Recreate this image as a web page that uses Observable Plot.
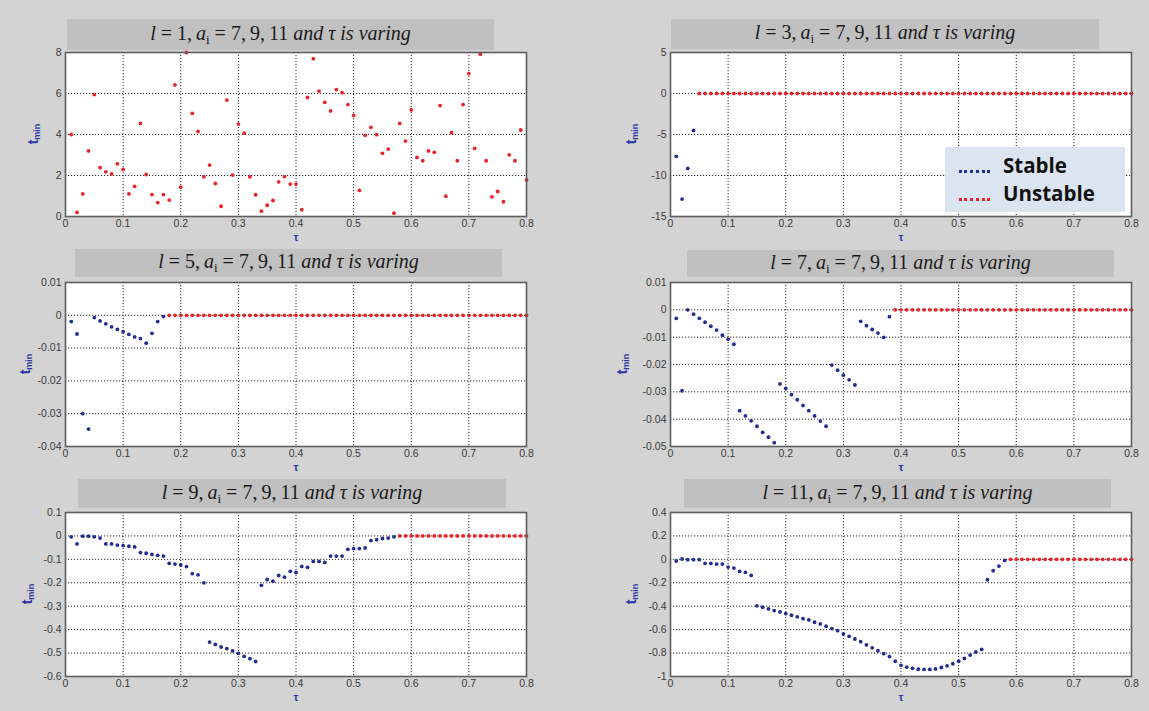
<!DOCTYPE html>
<html>
<head>
<meta charset="utf-8">
<script src="https://cdn.jsdelivr.net/npm/d3@7"></script>
<script src="https://cdn.jsdelivr.net/npm/@observablehq/plot@0.6"></script>
<style>
html, body { margin: 0; padding: 0; background: #d3d3d3; }
#root { position: relative; width: 1149px; height: 711px; overflow: hidden; background: #d3d3d3; }
.tbar { position: absolute; background: #c0c0c0; display: flex; align-items: center; justify-content: center;
        font-family: "Liberation Serif", "DejaVu Serif", serif; font-size: 20px; color: #1a1a1a; white-space: nowrap; }
.tbar i { font-style: italic; }
.tbar sub { font-size: 13px; vertical-align: -4px; }
.plotwrap { position: absolute; }
.ylab { position: absolute; transform: translate(-50%, -50%) rotate(-90deg); font-family: "Liberation Sans", Arial, sans-serif;
        font-weight: bold; font-size: 14px; color: #2a36a6; white-space: nowrap; }
.ylab sub { font-size: 9px; vertical-align: -2px; }
.legend { position: absolute; left: 945px; top: 147px; width: 180px; height: 65px; background: #dbe5f1; }
.legend .mk { position: absolute; left: 14px; width: 31px; height: 0; border-top: 3px dotted; }
.legend .tx { position: absolute; left: 58px; font-family: "Open Sans", "Liberation Sans", sans-serif; font-weight: bold;
              font-size: 20.5px; line-height: 1; color: #111; }
</style>
</head>
<body>
<div id="root"></div>
<script>
// ---------- data ----------
const tau = [0.01,0.02,0.03,0.04,0.05,0.06,0.07,0.08,0.09,0.10,
             0.11,0.12,0.13,0.14,0.15,0.16,0.17,0.18,0.19,0.20,
             0.21,0.22,0.23,0.24,0.25,0.26,0.27,0.28,0.29,0.30,
             0.31,0.32,0.33,0.34,0.35,0.36,0.37,0.38,0.39,0.40,
             0.41,0.42,0.43,0.44,0.45,0.46,0.47,0.48,0.49,0.50,
             0.51,0.52,0.53,0.54,0.55,0.56,0.57,0.58,0.59,0.60,
             0.61,0.62,0.63,0.64,0.65,0.66,0.67,0.68,0.69,0.70,
             0.71,0.72,0.73,0.74,0.75,0.76,0.77,0.78,0.79,0.80];

const xTicks = [0, 0.1, 0.2, 0.3, 0.4, 0.5, 0.6, 0.7, 0.8];
const statusNames = ["Stable", "Unstable"];

// l = 1 (all unstable)
const l1Stable = [];
const l1Unstable = [4.0,0.2,1.1,3.2,5.95,2.38,2.18,2.08,2.57,2.3,
                    1.1,1.47,4.54,2.05,1.07,0.68,1.07,0.8,6.42,1.43,
                    8.0,5.03,4.15,1.94,2.51,1.61,0.5,5.68,2.02,4.51,
                    4.07,1.94,1.06,0.26,0.55,0.78,1.69,1.95,1.58,1.58,
                    0.33,5.81,7.7,6.12,5.57,5.15,6.19,6.04,5.46,4.93,
                    1.27,3.96,4.35,3.99,3.08,3.29,0.16,4.54,3.68,5.2,
                    2.88,2.72,3.2,3.13,5.41,0.99,4.09,2.72,5.46,6.97,
                    3.32,7.92,2.72,0.96,1.22,0.72,3.01,2.72,4.22,1.78];
const l1Ticks = [0, 2, 4, 6, 8];

// l = 3
const l3Stable = [-7.66,-12.87,-9.14,-4.5];
const l3Unstable = [0,0,0,0,0,0,0,0,0,0,0,0,0,0,0,0,0,0,0,0,0,0,0,0,0,0,0,0,0,0,0,0,0,0,0,0,0,0,
                    0,0,0,0,0,0,0,0,0,0,0,0,0,0,0,0,0,0,0,0,0,0,0,0,0,0,0,0,0,0,0,0,0,0,0,0,0,0];
const l3Ticks = [-15, -10, -5, 0, 5];

// l = 5
const l5Stable = [-0.0019,-0.0057,-0.030,-0.0347,-0.0007,-0.0017,-0.0026,-0.0035,-0.0043,-0.005,
                  -0.0058,-0.0066,-0.0071,-0.0085,-0.0055,-0.0019,-0.0004];
const l5Unstable = [0,0,0,0,0,0,0,0,0,0,0,0,0,0,0,0,0,0,0,0,0,0,0,0,0,0,0,0,0,0,0,0,
                    0,0,0,0,0,0,0,0,0,0,0,0,0,0,0,0,0,0,0,0,0,0,0,0,0,0,0,0,0,0,0];
const l5Ticks = [-0.04, -0.03, -0.02, -0.01, 0, 0.01];

// l = 7
const l7Stable = [-0.0031,-0.0296,0.0,-0.0016,-0.0031,-0.0045,-0.006,-0.0074,-0.0093,-0.0108,-0.0126,
                  -0.0369,-0.0388,-0.0406,-0.0426,-0.0448,-0.0466,-0.0486,
                  -0.0271,-0.0287,-0.031,-0.0329,-0.035,-0.0369,-0.0388,-0.0407,-0.0426,
                  -0.0202,-0.0221,-0.0239,-0.0256,-0.0275,
                  -0.0042,-0.0058,-0.0072,-0.0085,-0.0101,-0.0025];
const l7Unstable = [0,0,0,0,0,0,0,0,0,0,0,0,0,0,0,0,0,0,0,0,0,
                    0,0,0,0,0,0,0,0,0,0,0,0,0,0,0,0,0,0,0,0,0];
const l7Ticks = [-0.05, -0.04, -0.03, -0.02, -0.01, 0, 0.01];

// l = 9
const l9Stable = [-0.004,-0.034,-0.001,-0.001,-0.004,-0.009,-0.034,-0.034,-0.039,-0.041,-0.044,-0.047,
                  -0.071,-0.074,-0.079,-0.083,-0.086,-0.117,-0.12,-0.124,-0.131,-0.161,-0.166,-0.2,
                  -0.453,-0.463,-0.474,-0.481,-0.491,-0.501,-0.514,-0.524,-0.536,
                  -0.211,-0.186,-0.193,-0.169,-0.176,-0.151,-0.156,-0.13,-0.134,-0.109,-0.109,-0.113,
                  -0.086,-0.086,-0.086,-0.057,-0.054,-0.054,-0.051,-0.02,-0.016,-0.011,-0.009,-0.004];
const l9Unstable = [0,0,0,0,0,0,0,0,0,0,0,0,0,0,0,0,0,0,0,0,0,0,0];
const l9Ticks = [-0.6, -0.5, -0.4, -0.3, -0.2, -0.1, 0, 0.1];

// l = 11
const l11Stable = [-0.014,0.003,-0.003,-0.003,-0.003,-0.034,-0.034,-0.04,-0.04,-0.066,-0.074,-0.103,-0.111,-0.137,
                   -0.397,-0.409,-0.423,-0.437,-0.449,-0.463,-0.477,-0.491,-0.506,-0.517,-0.537,-0.551,-0.571,
                   -0.591,-0.609,-0.637,-0.657,-0.68,-0.703,
                   -0.73,-0.755,-0.78,-0.805,-0.83,-0.87,-0.905,-0.92,-0.93,-0.938,-0.94,-0.94,-0.935,-0.923,
                   -0.909,-0.891,-0.869,-0.846,-0.817,-0.791,-0.769,
                   -0.174,-0.097,-0.057,-0.009];
const l11Unstable = [0,0,0,0,0,0,0,0,0,0,0,0,0,0,0,0,0,0,0,0,0,0];
const l11Ticks = [-1, -0.8, -0.6, -0.4, -0.2, 0, 0.2, 0.4];

// ---------- layout ----------
const COLORS = ["#232c92", "#e8232a"];
const PW = 461, PH = 164;
const ML = 50, MR = 12, MT = 6, MB = 34;

const panels = [
  {l: "1",  stable: l1Stable,  unstable: l1Unstable,  ticks: l1Ticks,  px: 65,  py: 52,  tb: [67, 19, 427, 31],  yl: 33},
  {l: "3",  stable: l3Stable,  unstable: l3Unstable,  ticks: l3Ticks,  px: 670, py: 52,  tb: [671, 19, 428, 30], yl: 631},
  {l: "5",  stable: l5Stable,  unstable: l5Unstable,  ticks: l5Ticks,  px: 65,  py: 282, tb: [75, 249, 427, 28], yl: 25},
  {l: "7",  stable: l7Stable,  unstable: l7Unstable,  ticks: l7Ticks,  px: 670, py: 282, tb: [687, 250, 427, 27], yl: 622},
  {l: "9",  stable: l9Stable,  unstable: l9Unstable,  ticks: l9Ticks,  px: 65,  py: 512, tb: [78, 479, 428, 29], yl: 27},
  {l: "11", stable: l11Stable, unstable: l11Unstable, ticks: l11Ticks, px: 670, py: 512, tb: [684, 479, 427, 29], yl: 631}
];

const fmt = d => String(+(+d).toFixed(3));
const root = document.getElementById("root");

function buildRows(stable, unstable) {
  const out = [];
  stable.forEach((v, i) => out.push({tau: tau[i], t: v, s: statusNames[0]}));
  unstable.forEach((v, i) => out.push({tau: tau[stable.length + i], t: v, s: statusNames[1]}));
  return out;
}

panels.forEach(p => {
  // title bar
  const tb = document.createElement("div");
  tb.className = "tbar";
  tb.style.left = p.tb[0] + "px"; tb.style.top = p.tb[1] + "px";
  tb.style.width = p.tb[2] + "px"; tb.style.height = p.tb[3] + "px";
  tb.innerHTML = `<span><i>l</i> = ${p.l},\u2009<i>a</i><sub>i</sub> = 7,\u20099,\u200911 <i>and τ is varing</i></span>`;
  root.appendChild(tb);

  const rows = buildRows(p.stable, p.unstable);
  const chart = Plot.plot({
    width: PW + ML + MR,
    height: PH + MT + MB,
    marginLeft: ML, marginRight: MR, marginTop: MT, marginBottom: MB,
    style: {background: "transparent", fontFamily: "'Liberation Sans', Arial, sans-serif", fontSize: "10.5px", color: "#3a3a3a", overflow: "visible"},
    x: {domain: [0, 0.8]},
    y: {domain: [p.ticks[0], p.ticks[p.ticks.length - 1]]},
    color: {domain: statusNames, range: COLORS},
    marks: [
      Plot.frame({fill: "white", stroke: "none"}),
      Plot.gridX(xTicks, {stroke: "#2a2a2a", strokeOpacity: 1, strokeWidth: 1, strokeDasharray: "1.2,1.8"}),
      Plot.gridY(p.ticks, {stroke: "#2a2a2a", strokeOpacity: 1, strokeWidth: 1, strokeDasharray: "1.2,1.8"}),
      Plot.dot(rows, {x: "tau", y: "t", fill: "s", r: 1.9, stroke: null}),
      Plot.frame({stroke: "#5e5e5e", strokeWidth: 1.6}),
      Plot.axisX(xTicks, {tickSize: 0, tickPadding: 3, tickFormat: fmt, label: null, fill: "#3a3a3a"}),
      Plot.axisY(p.ticks, {tickSize: 0, tickPadding: 4, tickFormat: fmt, label: null, fill: "#3a3a3a"}),
      Plot.text(["τ"], {frameAnchor: "bottom", dy: 24, fill: "#2a36a6", fontSize: 11, fontWeight: "bold"})
    ]
  });
  const wrap = document.createElement("div");
  wrap.className = "plotwrap";
  wrap.style.left = (p.px - ML) + "px";
  wrap.style.top = (p.py - MT) + "px";
  wrap.appendChild(chart);
  root.appendChild(wrap);

  // y label
  const yl = document.createElement("div");
  yl.className = "ylab";
  yl.style.left = p.yl + "px";
  yl.style.top = (p.py + PH / 2) + "px";
  yl.innerHTML = "t<sub>min</sub>";
  root.appendChild(yl);
});

// legend
const lg = document.createElement("div");
lg.className = "legend";
lg.innerHTML =
  `<div class="mk" style="top:23px;border-color:${COLORS[0]}"></div><div class="tx" style="top:8px">${statusNames[0]}</div>` +
  `<div class="mk" style="top:51px;border-color:${COLORS[1]}"></div><div class="tx" style="top:36px">${statusNames[1]}</div>`;
root.appendChild(lg);
</script>
</body>
</html>
